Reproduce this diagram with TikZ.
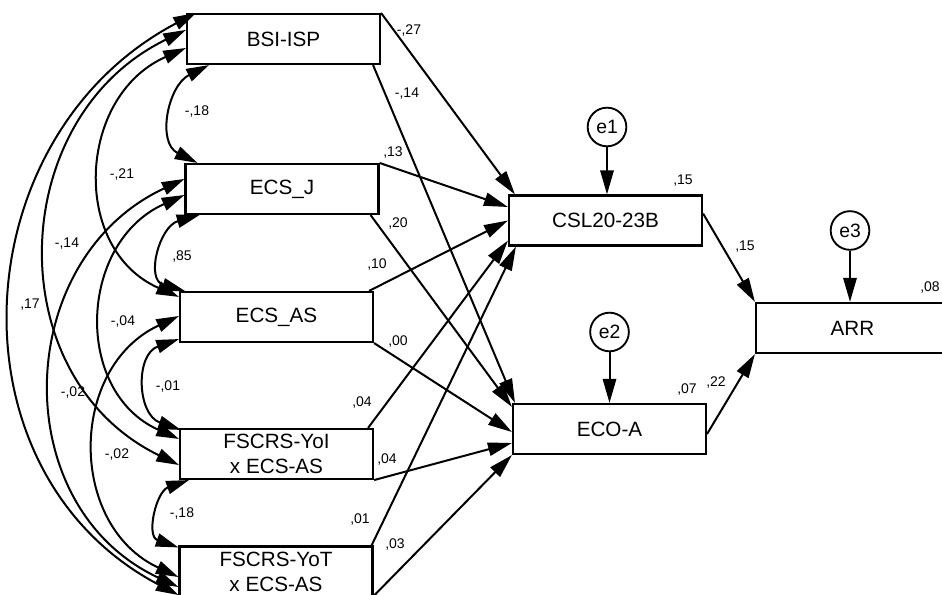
\documentclass[tikz,border=0pt]{standalone}
\usepackage{fontspec}
\setmainfont{Liberation Sans}
\usetikzlibrary{arrows.meta,calc}
\begin{document}
\begin{tikzpicture}[x=0.75pt,y=-0.75pt,
  box/.style={draw,line width=1.6pt,minimum width=144.75pt,minimum height=37.5pt,inner sep=0pt,font=\fontsize{15.5}{18.75}\selectfont,align=center},
  err/.style={draw,circle,line width=1.4pt,minimum size=29pt,inner sep=0pt,font=\fontsize{14.5}{16}\selectfont},
  lbl/.style={font=\fontsize{10.5}{12}\selectfont,inner sep=0pt},
  regarrow/.style={line width=1.5pt,-{Triangle[length=18pt,width=10pt]}},
  corr/.style={line width=1.5pt,{Triangle[length=17pt,width=10pt]}-{Triangle[length=17pt,width=10pt]}},
]
\useasboundingbox (0,0) rectangle (942,595);
% boxes
\node[box] (bsi) at (283.5,39) {BSI-ISP};
\node[box] (ecsj) at (282,189) {ECS\_J};
\node[box] (ecsas) at (276.5,317) {ECS\_AS};
\node[box] (yoi) at (276.5,454) {FSCRS-YoI\\x ECS-AS};
\node[box] (yot) at (276,571.5) {FSCRS-YoT\\x ECS-AS};
\node[box] (csl) at (605.5,220.5) {CSL20-23B};
\node[box] (eco) at (609.5,429) {ECO-A};
\node[box] (arr) at (852.5,328) {ARR};
\node[err] (e1) at (607,127) {e1};
\node[err] (e2) at (609.5,332) {e2};
\node[err] (e3) at (850,230.5) {e3};
% error arrows
\draw[regarrow] (e1) -- (e1 |- csl.north);
\draw[regarrow] (e2) -- (e2 |- eco.north);
\draw[regarrow] (e3) -- (e3 |- arr.north);
% regressions to CSL
\draw[regarrow] (bsi.north east) -- ($(csl.north west)+(7,0)$);
\draw[regarrow] (ecsj.north east) -- ($(csl.west)+(0,-13.5)$);
\draw[regarrow] ($(ecsas.north east)+(-5,0)$) -- (csl.west);
\draw[regarrow] ($(yoi.north east)+(-6,0)$) -- ($(csl.south west)+(0,-6)$);
\draw[regarrow] ($(yot.north east)+(-2,0)$) -- ($(csl.south west)+(8,0)$);
% regressions to ECO
\draw[regarrow] ($(bsi.south east)+(-8,0)$) -- ($(eco.north west)+(3,0)$);
\draw[regarrow] ($(ecsj.south east)+(-9,0)$) -- ($(eco.north west)+(0,4)$);
\draw[regarrow] (ecsas.south east) -- ($(eco.west)+(0,3)$);
\draw[regarrow] (yoi.south east) -- ($(eco.west)+(0,14)$);
\draw[regarrow] ($(yot.south east)+(0,-1.5)$) -- (eco.south west);
% to ARR
\draw[regarrow] ($(csl.east)+(0,-7)$) -- (arr.north west);
\draw[regarrow] ($(eco.east)+(0,5)$) -- (arr.south west);
% correlations
\draw[corr] ($(bsi.south west)+(23,0)$) .. controls +(-41,20.5) and +(-41,-20.5) .. ($(ecsj.north west)+(13,0)$);
\draw[corr] ($(ecsj.south west)+(15,0)$) .. controls +(-40,11.2) and +(-40,-11.2) .. ($(ecsas.north west)+(6,0)$);
\draw[corr] ($(ecsas.south west)+(0,-4)$) .. controls +(-44,15.4) and +(-44,-15.4) .. ($(yoi.north west)+(2,2)$);
\draw[corr] ($(yoi.south west)+(10,0)$) .. controls +(-32.7,11.4) and +(-32.7,-11.4) .. ($(yot.north west)+(0,2)$);
\draw[corr] ($(bsi.west)+(0,9)$) .. controls +(-108.7,47.9) and +(-108.7,-47.9) .. ($(ecsas.north west)+(0,6)$);
\draw[corr] ($(ecsj.west)+(0,6)$) .. controls +(-106,47.2) and +(-106,-47.2) .. ($(yoi.north west)+(0,11)$);
\draw[corr] ($(ecsas.west)+(0,-1)$) .. controls +(-110.7,51.6) and +(-110.7,-51.6) .. ($(yot.west)+(0,5.5)$);
\draw[corr] ($(bsi.north west)+(0,17)$) .. controls +(-180.7,87.8) and +(-180.7,-87.8) .. ($(yoi.west)+(0,11)$);
\draw[corr] ($(ecsj.north west)+(0,16)$) .. controls +(-172.7,80.5) and +(-172.7,-80.5) .. ($(yot.west)+(0,15.5)$);
\draw[corr] ($(bsi.north west)+(10,0)$) .. controls +(-234,122.9) and +(-234,-122.9) .. ($(yot.west)+(0,23.5)$);
% labels
\node[lbl] (l1) at (409,31) {-,27};
\node[lbl] (l2) at (407,94) {-,14};
\node[lbl] (l3) at (393,153) {,13};
\node[lbl] (l4) at (398,224) {,20};
\node[lbl] (l5) at (377,265) {,10};
\node[lbl] (l6) at (398,342) {,00};
\node[lbl] (l7) at (362,403) {,04};
\node[lbl] (l8) at (387,460) {,04};
\node[lbl] (l9) at (360,520) {,01};
\node[lbl] (l10) at (395,545) {,03};
\node[lbl] (l11) at (683,181) {,15};
\node[lbl] (l12) at (745,247) {,15};
\node[lbl] (l13) at (687,390) {,07};
\node[lbl] (l14) at (716,383) {,22};
\node[lbl] (l15) at (930,288) {,08};
\node[lbl] (c1) at (197,112) {-,18};
\node[lbl] (c2) at (122,175) {-,21};
\node[lbl] (c3) at (182,257) {,85};
\node[lbl] (c4) at (67,244) {-,14};
\node[lbl] (c5) at (30,305) {,17};
\node[lbl] (c6) at (123,322) {-,04};
\node[lbl] (c7) at (73,393) {-,02};
\node[lbl] (c8) at (117,455) {-,02};
\node[lbl] (c9) at (168,387) {-,01};
\node[lbl] (c10) at (182,514) {-,18};
\end{tikzpicture}
\end{document}
